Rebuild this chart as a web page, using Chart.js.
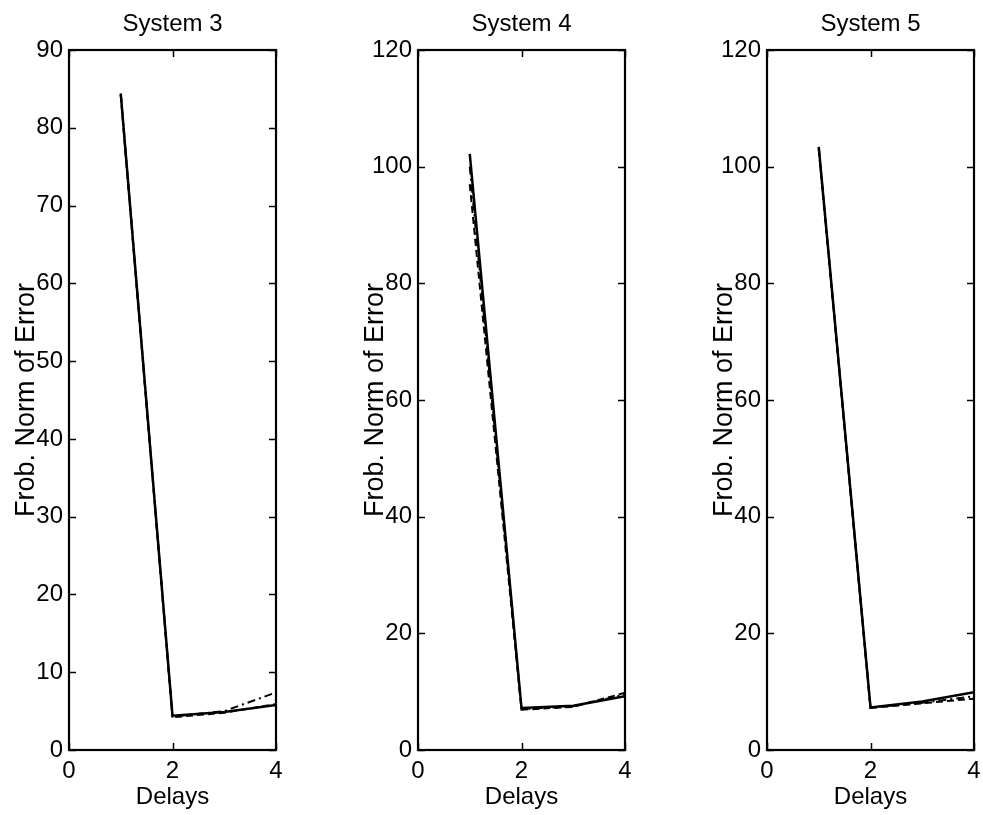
<!DOCTYPE html>
<html>
<head>
<meta charset="utf-8">
<script src="https://cdn.jsdelivr.net/npm/chart.js@4.4.1/dist/chart.umd.min.js"></script>
<style>
  html, body { margin: 0; padding: 0; background: #fff; overflow: hidden; }
  .panel { position: absolute; top: 0; }
</style>
</head>
<body>
<canvas id="sys3" class="panel" width="345" height="815" style="left:0px"></canvas>
<canvas id="sys4" class="panel" width="345" height="815" style="left:349px"></canvas>
<canvas id="sys5" class="panel" width="345" height="815" style="left:698px"></canvas>
<script>
// ============================================================================
// DATA
// ============================================================================

const delays = [1, 2, 3, 4];

const sys3Solid   = [84.4, 4.4, 4.9, 5.8];
const sys3Dashed  = [84.2, 4.2, 4.8, 5.9];
const sys3DashDot = [84.4, 4.3, 5.0, 7.4];

const sys4Solid   = [102.2, 7.2, 7.6, 9.2];
const sys4Dashed  = [97.0, 6.9, 7.4, 9.8];
const sys4DashDot = [100.0, 7.0, 7.5, 9.5];

const sys5Solid   = [103.4, 7.3, 8.3, 9.9];
const sys5Dashed  = [103.0, 7.2, 8.0, 8.8];
const sys5DashDot = [103.2, 7.3, 8.1, 9.2];

const panelTitles = ['System 3', 'System 4', 'System 5'];
const yMax = [90, 120, 120];
const yStep = [10, 20, 20];
const xMin = 0, xMax = 4, xStep = 2;

const FONT = '"Liberation Sans", Arial, Helvetica, sans-serif';

// ============================================================================
// PLUGINS
// ============================================================================

// MATLAB-style box with inward tick marks
const boxTicks = {
    id: 'boxTicks',
    afterDatasetsDraw(chart) {
        const { ctx, chartArea: a } = chart;
        const xs = chart.scales.x, ys = chart.scales.y;
        const len = 7;
        ctx.save();
        ctx.strokeStyle = '#000';
        ctx.lineWidth = 1.5;
        ctx.beginPath();
        ys.ticks.forEach(t => {
            const py = Math.round(ys.getPixelForValue(t.value)) + 0.5;
            ctx.moveTo(a.left, py); ctx.lineTo(a.left + len, py);
            ctx.moveTo(a.right, py); ctx.lineTo(a.right - len, py);
        });
        xs.ticks.forEach(t => {
            const px = Math.round(xs.getPixelForValue(t.value)) + 0.5;
            ctx.moveTo(px, a.bottom); ctx.lineTo(px, a.bottom - len);
            ctx.moveTo(px, a.top); ctx.lineTo(px, a.top + len);
        });
        ctx.stroke();
        ctx.lineWidth = 2.2;
        ctx.strokeRect(a.left, a.top, a.right - a.left, a.bottom - a.top);
        ctx.restore();
    }
};

// ============================================================================
// CHARTS
// ============================================================================

function makeLines(solid, dashed, dashDot) {
    const pts = arr => delays.map((d, i) => ({ x: d, y: arr[i] }));
    return [
        { label: 'solid', data: pts(solid), borderColor: '#000', borderWidth: 2.5, pointRadius: 0, tension: 0 },
        { label: 'dashed', data: pts(dashed), borderColor: '#000', borderWidth: 2, borderDash: [7, 4], pointRadius: 0, tension: 0 },
        { label: 'dashdot', data: pts(dashDot), borderColor: '#000', borderWidth: 2, borderDash: [8, 4, 2, 4], pointRadius: 0, tension: 0 }
    ];
}

function makeChart(id, idx, datasets) {
    const ctx = document.getElementById(id).getContext('2d');
    return new Chart(ctx, {
        type: 'line',
        data: { datasets },
        options: {
            responsive: false,
            animation: false,
            devicePixelRatio: 1,
            layout: { padding: 0 },
            plugins: {
                legend: { display: false },
                tooltip: { enabled: false },
                title: {
                    display: true,
                    text: panelTitles[idx],
                    color: '#000',
                    font: { family: FONT, size: 24, weight: 'normal', lineHeight: 1.2 },
                    padding: { top: 10, bottom: 11.2 }
                }
            },
            scales: {
                x: {
                    type: 'linear',
                    min: xMin, max: xMax,
                    grid: { display: false, drawTicks: false },
                    border: { display: false },
                    ticks: {
                        stepSize: xStep, color: '#000', padding: 7,
                        font: { family: FONT, size: 24 }
                    },
                    title: {
                        display: true, text: 'Delays', color: '#000',
                        font: { family: FONT, size: 24 },
                        padding: { top: 0, bottom: 3 }
                    },
                    afterFit(s) { s.height = 65; s.paddingLeft = 0; s.paddingRight = 0; }
                },
                y: {
                    type: 'linear',
                    position: 'left',
                    min: 0, max: yMax[idx],
                    grid: { display: false, drawTicks: false },
                    border: { display: false },
                    ticks: {
                        stepSize: yStep[idx], color: '#000', padding: 6,
                        font: { family: FONT, size: 24 }
                    },
                    title: {
                        display: true, text: 'Frob. Norm of Error', color: '#000',
                        font: { family: FONT, size: 27 },
                        padding: { top: 10, bottom: 0 }
                    },
                    afterFit(s) { s.width = 69; s.paddingTop = 0; s.paddingBottom = 0; }
                },
                // empty right-hand box so the title centres over the plot
                yRight: {
                    type: 'linear',
                    position: 'right',
                    display: true,
                    grid: { display: false, drawTicks: false },
                    border: { display: false },
                    ticks: { display: false },
                    afterFit(s) { s.width = 69; s.paddingTop = 0; s.paddingBottom = 0; }
                }
            }
        },
        plugins: [boxTicks]
    });
}

makeChart('sys3', 0, makeLines(sys3Solid, sys3Dashed, sys3DashDot));
makeChart('sys4', 1, makeLines(sys4Solid, sys4Dashed, sys4DashDot));
makeChart('sys5', 2, makeLines(sys5Solid, sys5Dashed, sys5DashDot));
</script>
</body>
</html>
